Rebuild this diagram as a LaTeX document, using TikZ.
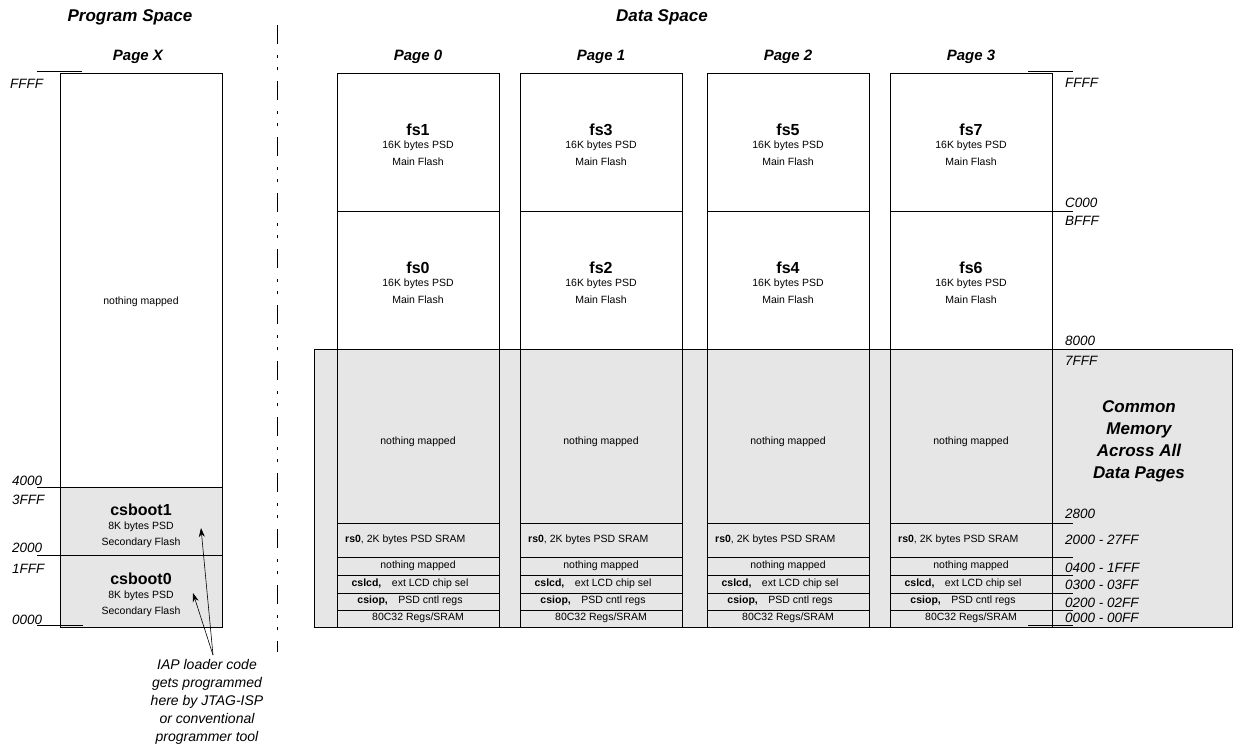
\documentclass[tikz,border=0pt]{standalone}
\usepackage{fontspec}
\setmainfont{Liberation Sans}
\usetikzlibrary{arrows.meta}
\definecolor{memgray}{RGB}{230,230,230}
\tikzset{
  box/.style={draw, line width=1pt},
  rule/.style={line width=1pt},
  addr/.style={font=\fontsize{13.5}{15}\selectfont\itshape, anchor=west, inner sep=0pt},
  small/.style={font=\fontsize{10.5}{12}\selectfont, inner sep=0pt},
  big/.style={font=\fontsize{16}{18}\selectfont\bfseries, inner sep=0pt},
  title/.style={font=\fontsize{17}{20}\selectfont\bfseries\itshape, inner sep=0pt},
  pagelbl/.style={font=\fontsize{15}{18}\selectfont\bfseries\itshape, inner sep=0pt},
  note/.style={font=\fontsize{14}{18}\selectfont\itshape, align=center, inner sep=0pt},
  common/.style={font=\fontsize{17}{22}\selectfont\bfseries\itshape, align=center, inner sep=0pt},
  ptr/.style={line width=0.6pt, -{Stealth[length=9pt,width=6pt]}},
  divider/.style={line width=1pt, dash pattern=on 19pt off 11pt on 3pt off 9pt on 3pt off 11pt},
}
\begin{document}
\begin{tikzpicture}[x=1pt,y=-1pt]
\useasboundingbox (0,0) rectangle (1234,747);

% titles
\node[title] (tprog) at (130,17) {Program Space};
\node[title] (tdata) at (662,17) {Data Space};

% separator
\coordinate (sepT) at (277,25);
\coordinate (sepB) at (277,652);
\draw[divider] (sepT) -- (sepB);

% ---------- program space ----------
\fill[memgray] (60,487) rectangle (222,627);
\draw[box] (60,73) rectangle (222,627);
\draw[rule] (37,487) -- (222,487);
\draw[rule] (37,555) -- (222,555);
\draw[rule] (37,71) -- (82,71);
\draw[rule] (37,625) -- (83,625);
\node[pagelbl] (pgX) at (138,57) {Page X};
\node[small] (pxnm) at (141,302) {nothing mapped};
\node[big] (cb1) at (141,510) {csboot1};
\node[small] (cb1a) at (141,527) {8K bytes PSD};
\node[small] (cb1b) at (141,543) {Secondary Flash};
\node[big] (cb0) at (141,579) {csboot0};
\node[small] (cb0a) at (141,596) {8K bytes PSD};
\node[small] (cb0b) at (141,612) {Secondary Flash};

\node[addr] (aFFFFl) at (10,84) {FFFF};
\node[addr] (a4000l) at (12,481) {4000};
\node[addr] (a3FFFl) at (12,500) {3FFF};
\node[addr] (a2000l) at (12,548) {2000};
\node[addr] (a1FFFl) at (12,569) {1FFF};
\node[addr] (a0000l) at (12,620) {0000};

% annotation + arrows
\node[note] (ann) at (207,702) {IAP loader code\\gets programmed\\here by JTAG-ISP\\or conventional\\programmer tool};
\coordinate (src) at (213,655);
\coordinate (tipA) at (201,528);
\coordinate (tipB) at (193,593);
\draw[ptr] (src) -- (tipA);
\draw[ptr] (src) -- (tipB);

% ---------- data space ----------
\fill[memgray] (314,349) rectangle (1232,627);
\draw[box] (314,349) rectangle (1232,627);

\foreach \i/\xl/\hiN/\loN in {0/337/1/0, 1/520/3/2, 2/707/5/4, 3/890/7/6} {
  \pgfmathsetmacro\xr{\xl+162}
  \pgfmathsetmacro\cx{\xl+81}
  \fill[white] (\xl,73) rectangle (\xr,349);
  \draw[box] (\xl,73) rectangle (\xr,627);
  \draw[rule] (\xl,211) -- (\xr,211);
  \draw[rule] (\xl,349) -- (\xr,349);
  \foreach \yy in {523,557,575,593,610} {\draw[rule] (\xl,\yy) -- (\xr,\yy);}
  \node[pagelbl] (pg\i) at (\cx,57) {Page \i};
  \node[big] (fsh\i) at (\cx,130) {fs\hiN};
  \node[small] (fsha\i) at (\cx,146) {16K bytes PSD};
  \node[small] (fshb\i) at (\cx,162) {Main Flash};
  \node[big] (fsl\i) at (\cx,268) {fs\loN};
  \node[small] (fsla\i) at (\cx,284) {16K bytes PSD};
  \node[small] (fslb\i) at (\cx,300) {Main Flash};
  \node[small] (nm\i) at (\cx,442) {nothing mapped};
  \node[small, anchor=west] (rs\i) at (\xl+8,540) {\textbf{rs0}, 2K bytes PSD SRAM};
  \node[small] (nmb\i) at (\cx,566) {nothing mapped};
  \node[small] (lcd\i) at (\cx-8,584) {\textbf{cslcd,}\quad ext LCD chip sel};
  \node[small] (iop\i) at (\cx-8,601) {\textbf{csiop,}\quad PSD cntl regs};
  \node[small] (reg\i) at (\cx,618) {80C32 Regs/SRAM};
}

% right-hand ticks
\draw[rule] (1028,71) -- (1073,71);
\draw[rule] (1052,211) -- (1073,211);
\foreach \yy in {523,557,575,593,610} {\draw[rule] (1052,\yy) -- (1073,\yy);}
\draw[rule] (1028,625) -- (1073,625);

\node[addr] (rFFFF) at (1065,83) {FFFF};
\node[addr] (rC000) at (1065,203) {C000};
\node[addr] (rBFFF) at (1065,221) {BFFF};
\node[addr] (r8000) at (1065,341) {8000};
\node[addr] (r7FFF) at (1065,361) {7FFF};
\node[addr] (r2800) at (1065,514) {2800};
\node[addr] (r2000) at (1065,540) {2000 - 27FF};
\node[addr] (r0400) at (1065,568) {0400 - 1FFF};
\node[addr] (r0300) at (1065,585) {0300 - 03FF};
\node[addr] (r0200) at (1065,603) {0200 - 02FF};
\node[addr] (r0000) at (1065,618) {0000 - 00FF};

\node[common] (cm) at (1139,441) {Common\\ Memory\\Across All\\Data Pages};
\end{tikzpicture}
\end{document}
